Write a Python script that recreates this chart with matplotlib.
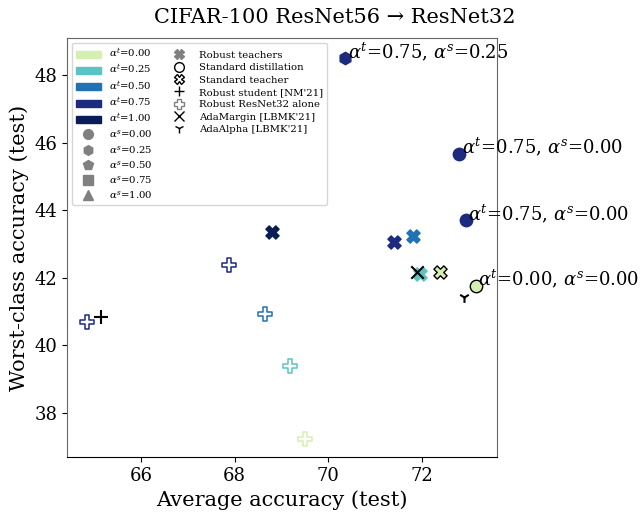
import matplotlib
matplotlib.use("Agg")
import matplotlib.pyplot as plt
from matplotlib.lines import Line2D
from matplotlib.patches import Patch

plt.rcParams["font.family"] = "DejaVu Serif"
plt.rcParams["mathtext.fontset"] = "dejavuserif"

# colours for alpha^t values
alpha_t_vals = ["0.00", "0.25", "0.50", "0.75", "1.00"]
alpha_t_cols = ["#d4efb2", "#5bc3c3", "#2171b5", "#1c2a80", "#081d58"]
alpha_s_vals = ["0.00", "0.25", "0.50", "0.75", "1.00"]
alpha_s_mark = ["o", "h", "p", "s", "^"]

# robust ResNet32 alone (one per alpha^t colour)
alone_x = [69.49, 69.17, 68.64, 67.89, 64.85]
alone_y = [37.22, 39.39, 40.93, 42.38, 40.68]
alone_c = [0, 1, 2, 3, 3]

# robust teachers
rteach_x = [71.95, 71.81, 71.39, 68.79]
rteach_y = [42.13, 43.24, 43.05, 43.37]
rteach_c = [1, 2, 3, 4]

# distilled students: (x, y, alpha_t idx, alpha_s idx)
stud_x = [72.79, 72.93, 70.36]
stud_y = [45.68, 43.70, 48.50]
stud_t = [3, 3, 3]
stud_s = [0, 0, 1]

std_teacher = (72.38, 42.16)
std_distill = (73.14, 41.77)
nm21 = (65.16, 40.83)
adamargin = (71.88, 42.16)
adaalpha = (72.89, 41.42)

fig, ax = plt.subplots(figsize=(6.4, 5.14), dpi=100)

for x, y, c in zip(alone_x, alone_y, alone_c):
    ax.scatter(x, y, marker="P", s=95, facecolor="white",
               edgecolor=alpha_t_cols[c], linewidth=1.1, zorder=3)

for x, y, c in zip(rteach_x, rteach_y, rteach_c):
    ax.scatter(x, y, marker="X", s=90, color=alpha_t_cols[c], zorder=3)

for x, y, t, s in zip(stud_x, stud_y, stud_t, stud_s):
    ax.scatter(x, y, marker=alpha_s_mark[s], s=80, color=alpha_t_cols[t], zorder=3)
    ax.text(x + 0.05, y, r"$\alpha^t$=%s, $\alpha^s$=%s" % (alpha_t_vals[t], alpha_s_vals[s]),
            fontsize=13, ha="left", va="baseline", zorder=4)

ax.scatter(*std_teacher, marker="X", s=90, facecolor=alpha_t_cols[0],
           edgecolor="black", linewidth=1, zorder=3)
ax.scatter(*std_distill, marker="o", s=80, facecolor=alpha_t_cols[0],
           edgecolor="black", linewidth=1, zorder=3)
ax.text(std_distill[0] + 0.05, std_distill[1],
        r"$\alpha^t$=0.00, $\alpha^s$=0.00", fontsize=13, ha="left", va="baseline")
ax.scatter(*nm21, marker="+", s=100, color="black", linewidth=1.5, zorder=3)
ax.scatter(*adamargin, marker="x", s=80, color="black", linewidth=1.5, zorder=4)
ax.scatter(*adaalpha, marker="1", s=60, color="black", linewidth=1.5, zorder=3)

ax.set_xlim(64.43, 73.6)
ax.set_ylim(36.7, 49.1)
ax.set_xticks([66, 68, 70, 72])
ax.set_yticks([38, 40, 42, 44, 46, 48])
ax.tick_params(labelsize=13)
ax.set_xlabel("Average accuracy (test)", fontsize=15)
ax.set_ylabel("Worst-class accuracy (test)", fontsize=15)
fig.text(0.523, 0.955, "CIFAR-100 ResNet56 → ResNet32", fontsize=15,
         ha="center", va="baseline")
for side in ["left", "top", "right"]:
    ax.spines[side].set_color("#666666")
ax.spines["bottom"].set_color("black")

handles = [Patch(color=c, label=r"$\alpha^t$=%s" % v) for v, c in zip(alpha_t_vals, alpha_t_cols)]
handles += [Line2D([], [], ls="", marker=m, color="gray", markersize=7, label=r"$\alpha^s$=%s" % v)
            for v, m in zip(alpha_s_vals, alpha_s_mark)]
handles += [
    Line2D([], [], ls="", marker="X", color="gray", markersize=7, label="Robust teachers"),
    Line2D([], [], ls="", marker="o", mfc="white", mec="black", markersize=7, label="Standard distillation"),
    Line2D([], [], ls="", marker="X", mfc="white", mec="black", markersize=7, label="Standard teacher"),
    Line2D([], [], ls="", marker="+", color="black", markersize=7, label="Robust student [NM'21]"),
    Line2D([], [], ls="", marker="P", mfc="white", mec="gray", markersize=7, label="Robust ResNet32 alone"),
    Line2D([], [], ls="", marker="x", color="black", markersize=7, label="AdaMargin [LBMK'21]"),
    Line2D([], [], ls="", marker="1", color="black", markersize=7, label="AdaAlpha [LBMK'21]"),
]
# blank entries so the first column holds 10 rows
handles += [Line2D([], [], ls="", label=" ") for _ in range(3)]
ax.legend(handles=handles, ncol=2, loc="upper left", fontsize=7.3,
          borderaxespad=0.5, labelspacing=0.32, handlelength=2.4,
          columnspacing=1.4)

fig.subplots_adjust(left=0.105, right=0.777, top=0.926, bottom=0.111)
fig.savefig("out.png", dpi=100)
